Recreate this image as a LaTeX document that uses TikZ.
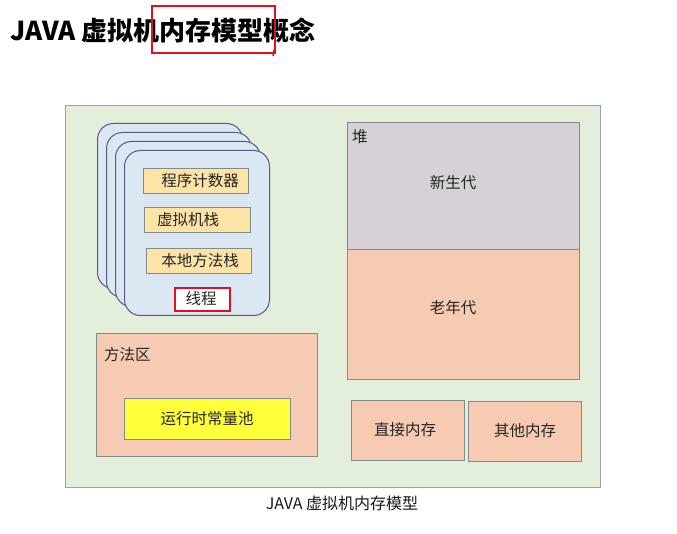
\documentclass[tikz,border=0pt]{standalone}
\usepackage{fontspec}
\setmainfont{Noto Sans CJK SC}
\newfontfamily\cjk{Noto Sans CJK SC}
\begin{document}
\begin{tikzpicture}[x=1pt,y=-1pt,
  font=\cjk,
  box/.style={draw=#1, line width=1pt, anchor=north west, inner sep=0pt},
  box/.default={gray!70!teal!60!black},
  card/.style={draw=black!45!blue!30!gray, fill=cardblue, line width=1pt,
    rounded corners=16pt, anchor=north west, minimum width=145pt, minimum height=165pt},
  lbl/.style={text=black!85, font=\cjk\fontsize{15.5}{16}\selectfont, inner sep=0pt},
]
\definecolor{bggreen}{HTML}{E3EEDB}
\definecolor{cardblue}{HTML}{DCE7F4}
\definecolor{slotfill}{HTML}{FCE3A6}
\definecolor{salmon}{HTML}{F7CAB4}
\definecolor{heapgray}{HTML}{D5D1D6}
\definecolor{poolyellow}{HTML}{FFFF3A}
\definecolor{edge}{HTML}{7E8C8C}
\definecolor{markred}{HTML}{E0101C}

\useasboundingbox (0,0) rectangle (677,534);
\fill[white] (0,0) rectangle (677,534);

% heading with its hand-drawn highlight
\node[anchor=west, inner sep=0pt, font=\cjk\bfseries\fontsize{26}{27}\selectfont] (title) at (10,30) {JAVA 虚拟机内存模型概念};
\draw[markred, line width=2pt] (152,6) rectangle (275,53);
\draw[markred, line width=1.5pt] (274,50) -- (273,56);

% outer frame
\node[box=edge!80, fill=bggreen, minimum width=535pt, minimum height=382pt] (jvm) at (65,105) {};

% stacked thread frames
\node[card] (t1) at (97,123) {};
\node[card] (t2) at (106,132) {};
\node[card] (t3) at (115,141) {};
\node[card] (t4) at (124,150) {};

\node[box=edge, fill=slotfill, minimum width=105pt, minimum height=25pt] (pc) at (143,168) {};
\node[lbl] at (200,181) {程序计数器};
\node[box=edge, fill=slotfill, minimum width=106pt, minimum height=25pt] (vms) at (144,207) {};
\node[lbl] at (188,220) {虚拟机栈};
\node[box=edge, fill=slotfill, minimum width=105pt, minimum height=25pt] (nms) at (146,248) {};
\node[lbl] at (200,261) {本地方法栈};
\node[box=markred, line width=1.6pt, fill=white, minimum width=55pt, minimum height=23pt] (thread) at (174,287) {};
\node[lbl] at (201,299) {线程};

% method area
\node[box=edge, fill=salmon, minimum width=221pt, minimum height=123pt] (method) at (96,333) {};
\node[lbl, anchor=west] at (104,355) {方法区};
\node[box=edge, fill=poolyellow, minimum width=166pt, minimum height=41pt] (pool) at (124,398) {};
\node[lbl] at (207,419) {运行时常量池};

% heap
\node[box=edge, fill=heapgray, minimum width=232pt, minimum height=127pt] (young) at (347,122) {};
\node[box=edge, fill=salmon, minimum width=232pt, minimum height=130pt] (old) at (347,249) {};
\node[lbl, anchor=west] at (352,137) {堆};
\node[lbl] at (453,183) {新生代};
\node[lbl] at (453,308) {老年代};

% off-heap memory
\node[box=edge, fill=salmon, minimum width=113pt, minimum height=60pt] (direct) at (351,400) {};
\node[lbl] at (405,430) {直接内存};
\node[box=edge, fill=salmon, minimum width=113pt, minimum height=60pt] (other) at (468,401) {};
\node[lbl] at (525,431) {其他内存};

% caption
\node[inner sep=0pt, text=black!90, font=\cjk\fontsize{16}{17}\selectfont] (caption) at (342,503) {JAVA 虚拟机内存模型};
\end{tikzpicture}
\end{document}
